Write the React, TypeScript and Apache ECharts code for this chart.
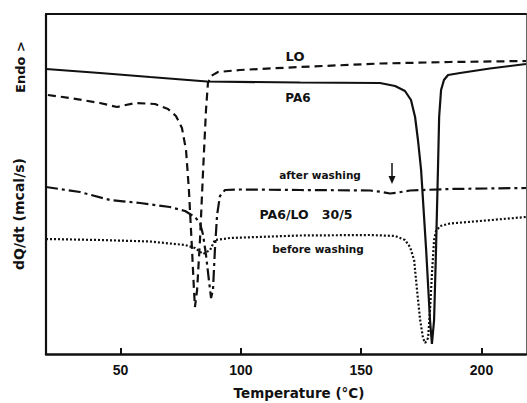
import React, { useEffect, useRef } from "react";
import * as echarts from "echarts";

// Temperature (°C) vs heat flow (arbitrary units, endo up)
const pa6: [number, number][] = [
  [19, 285], [41.4, 281], [62.2, 277], [85.9, 272.5], [124.6, 271.5], [157.8, 271],
  [164.1, 268], [168.2, 263], [170.7, 254], [172.4, 237], [173.6, 214], [174.9, 184],
  [177.0, 104], [178.6, 34], [179.4, 10], [180.3, 34], [181.1, 104], [181.9, 184],
  [182.4, 237], [183.2, 264], [184.4, 274], [186.1, 279], [191.1, 281], [203.5, 285.5],
  [218.5, 290],
];

const lo: [number, number][] = [
  [19.8, 259], [29, 256], [41.4, 251], [48.5, 247], [56, 251], [64.3, 250], [69.7, 245],
  [73, 238], [75.5, 226], [77.2, 204], [78.4, 164], [79.7, 104], [80.5, 64], [80.9, 47],
  [81.8, 64], [83, 114], [84.3, 184], [85.5, 244], [86.3, 271], [87.6, 278], [90.5, 282],
  [99.6, 284], [124.6, 287], [157.8, 290.5], [186.9, 292], [218.5, 293],
];

const afterWashing: [number, number][] = [
  [19, 167], [33.1, 162], [45.6, 154], [58.1, 151], [70.5, 147], [76.8, 143], [80.9, 137],
  [83, 131], [84.3, 119], [85.5, 99], [86.7, 74], [87.6, 56], [88.4, 64], [89.2, 104],
  [90.1, 139], [91.3, 158], [93.4, 164], [99.6, 164.5], [124.6, 164], [153.7, 163.5],
  [158.7, 162], [162, 160.5], [165.3, 161.5], [170.3, 163.5], [186.9, 165], [218.5, 166],
];

const beforeWashing: [number, number][] = [
  [19, 115], [41.4, 114], [62.2, 112.5], [76.8, 109], [80.9, 106], [84.3, 100], [87.2, 104],
  [89.2, 114], [95.5, 116], [124.6, 118.5], [153.7, 119], [164.1, 118], [168.2, 114],
  [170.3, 107], [172, 94], [173.2, 64], [174.5, 34], [175.7, 16], [176.6, 11], [177.8, 16],
  [178.6, 44], [179.5, 84], [180.3, 114], [181.1, 123], [182.8, 128], [186.9, 130.5],
  [199.4, 133], [218.5, 137],
];

const xTicks = [50, 100, 150, 200];

const WORD_FONT = "DejaVu Sans";
const NUM_FONT = "Liberation Sans";

export default function App() {
  const ref = useRef<HTMLDivElement>(null);
  useEffect(() => {
    if (!ref.current) return;
    const chart = echarts.init(ref.current, null, { renderer: "svg" });
    const lineBase = { color: "#111", width: 2.2 };
    const mk = (name: string, data: [number, number][], type: any) => ({
      name,
      type: "line",
      data,
      showSymbol: false,
      smooth: false,
      lineStyle: { ...lineBase, type },
      z: 3,
    });
    const txt = (text: string, x: number, y: number, size: number, extra: any = {}) => ({
      type: "text",
      x,
      y,
      ...extra,
      style: {
        text,
        fill: "#111",
        font: `bold ${size}px "${WORD_FONT}"`,
        align: "center",
        verticalAlign: "middle",
      },
    });
    chart.setOption({
      animation: false,
      backgroundColor: "#fff",
      grid: { left: 46, right: 1, top: 14, bottom: 49, show: false },
      xAxis: [
        {
          type: "value",
          min: 19,
          max: 218.5,
          position: "bottom",
          axisLine: { show: true, onZero: false, lineStyle: { color: "#111", width: 2.5 } },
          axisTick: {
            show: true,
            inside: true,
            length: 6,
            customValues: xTicks,
            lineStyle: { color: "#111", width: 2 },
          },
          axisLabel: {
            show: true,
            customValues: xTicks,
            margin: 9,
            color: "#111",
            fontSize: 14,
            fontWeight: "bold",
            fontFamily: NUM_FONT,
          },
          splitLine: { show: false },
        },
        {
          type: "value",
          min: 19,
          max: 218.5,
          position: "top",
          axisLine: { show: true, onZero: false, lineStyle: { color: "#111", width: 2 } },
          axisTick: { show: false },
          axisLabel: { show: false },
          splitLine: { show: false },
        },
      ],
      yAxis: [
        {
          type: "value",
          min: 0,
          max: 340,
          position: "left",
          axisLine: { show: true, onZero: false, lineStyle: { color: "#111", width: 2.2 } },
          axisTick: { show: false },
          axisLabel: { show: false },
          splitLine: { show: false },
        },
        {
          type: "value",
          min: 0,
          max: 340,
          position: "right",
          axisLine: { show: true, onZero: false, lineStyle: { color: "#666", width: 1 } },
          axisTick: { show: false },
          axisLabel: { show: false },
          splitLine: { show: false },
        },
      ],
      series: [
        mk("PA6", pa6, "solid"),
        mk("LO", lo, [8, 5]),
        mk("after washing", afterWashing, [12, 4, 3, 4]),
        mk("before washing", beforeWashing, [2, 2]),
      ],
      graphic: [
        txt("Endo >", 20, 67, 13, { rotation: Math.PI / 2 }),
        txt("dQ/dt (mcal/s)", 19, 214, 14, { rotation: Math.PI / 2 }),
        txt("LO", 295, 56, 13),
        txt("PA6", 298, 98, 12),
        txt("after washing", 320, 175, 10.5),
        txt("PA6/LO   30/5", 306, 214, 12.5),
        txt("before washing", 318, 249, 10.5),
        txt("Temperature (°C)", 299, 393, 13.5),
        {
          type: "line",
          shape: { x1: 392, y1: 163, x2: 392, y2: 178 },
          style: { stroke: "#111", lineWidth: 1.5 },
        },
        {
          type: "polygon",
          shape: { points: [[388.5, 176], [395.5, 176], [392, 184]] },
          style: { fill: "#111" },
        },
      ],
    });
    return () => chart.dispose();
  }, []);
  return (
    <div
      ref={ref}
      style={{ position: "absolute", left: 0, top: 0, width: 527, height: 403 }}
    />
  );
}
